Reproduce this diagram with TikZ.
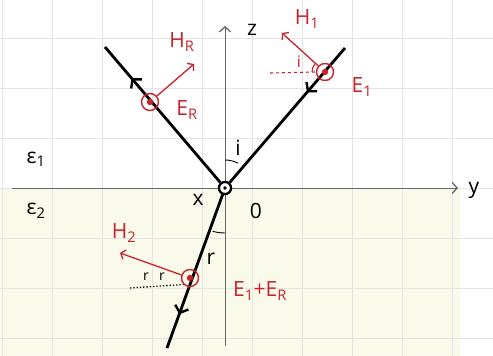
\documentclass[tikz,border=0pt]{standalone}
\usepackage{fontspec}
\setmainfont{Open Sans}
\usetikzlibrary{arrows.meta,decorations.markings,positioning}
\definecolor{ink}{HTML}{C8232C}
\definecolor{paper}{HTML}{FAFAEB}
\definecolor{gridgray}{HTML}{E4E4E4}

\begin{document}
\begin{tikzpicture}[x=1pt,y=-1pt,
	font=\fontsize{21}{23}\selectfont,
	gridline/.style={gridgray,line width=0.6pt},
	axis/.style={gray!80!black,line width=1pt,-{Straight Barb[length=5pt,width=11pt,line width=1.3pt]}},
	ray/.style={line width=2.8pt,postaction={decorate},
		decoration={markings,mark=at position #1 with {\arrow{Straight Barb[length=6pt,width=14pt,line width=2.4pt]}}}},
	field/.style={circle,draw=ink,line width=1.4pt,minimum size=17pt,inner sep=0pt},
	hvec/.style={ink,line width=1.3pt,-{Straight Barb[length=4pt,width=10pt,line width=1.3pt]}},
	lbl/.style={ink,inner sep=0pt}]

	\useasboundingbox (0,0) rectangle (493,356);
	\fill[white] (0,0) rectangle (493,356);
	\fill[paper] (0,188) rectangle (460,356);
	\foreach \gx in {2,52,...,452}
		\draw[gridline] (\gx,0) -- (\gx,356);
	\foreach \gy in {38,88,...,338}
		\draw[gridline] (0,\gy) -- (493,\gy);

	% axes
	\coordinate (yl) at (12,188);
	\coordinate (yr) at (458,188);
	\coordinate (zb) at (225,346);
	\coordinate (zt) at (225,26);
	\draw[axis] (yl) -- (yr);
	\draw[axis] (zb) -- (zt);
	\node (ylab) at (474,190) {y};
	\node (zlab) at (252,30) {z};

	% origin and ray ends
	\node[circle,draw,line width=2.2pt,fill=white,minimum size=12pt,inner sep=0pt] (o) at (225,188) {};
	\coordinate (inc) at (345,48);
	\coordinate (refl) at (105,47);
	\coordinate (refr) at (167,348);

	\draw[ray=0.33] (inc) -- (o);
	\draw[ray=0.77] (o) -- (refl);
	\draw[ray=0.78] (o) -- (refr);
	\node[circle,draw,line width=2.2pt,fill=white,minimum size=12pt,inner sep=0pt] at (o) {};
	\fill (o) circle (1.8pt);

	\node (xlab) at (198,200) {x};
	\node (olab) at (256,211) {0};
	\node (eps1) at (36,159) {ε\textsubscript{1}};
	\node (eps2) at (36,211) {ε\textsubscript{2}};

	% angles at origin
	\draw[line width=0.9pt] (225,160) arc[start angle=90,end angle=62,radius=28pt];
	\node (ilab) at (238,148) {i};
	\draw[line width=0.9pt] (225,233) arc[start angle=270,end angle=254,radius=45pt];
	\node (rlab) at (211,259) {r};

	% incident field
	\node[field] (e1) at (325,72) {};
	\fill[ink] (e1) circle (3.2pt);
	\coordinate (h1tip) at (282,33);
	\draw[hvec] (e1) -- (h1tip);
	\draw[ink,dashed,line width=1.1pt] (270,73) -- (e1.west);
	\draw[ink,line width=1.1pt] ([shift={(-13,0)}]e1.center) arc[start angle=180,end angle=140,radius=13pt];
	\node[lbl] (i1lab) at (299,62) {\fontsize{16}{17}\selectfont i};
	\node[lbl] (h1lab) at (307,19) {H\textsubscript{1}};
	\node[lbl] (e1lab) at (362,87) {E\textsubscript{1}};

	% reflected field
	\node[field] (er) at (150,102) {};
	\fill[ink] (er) circle (3.2pt);
	\coordinate (hrtip) at (194,64);
	\draw[hvec] (er) -- (hrtip);
	\node[lbl] (hrlab) at (182,42) {H\textsubscript{R}};
	\node[lbl] (erlab) at (187,110) {E\textsubscript{R}};

	% transmitted field
	\node[field] (e2) at (190,278) {};
	\fill[ink] (e2) circle (3.2pt);
	\coordinate (h2tip) at (120,253);
	\draw[hvec] (e2) -- (h2tip);
	\draw[dotted,line width=1.3pt] (130,288) -- (e2.south west);
	\node (r1lab) at (146,277) {\fontsize{14}{15}\selectfont r};
	\node (r2lab) at (162,277) {\fontsize{14}{15}\selectfont r};
	\node[lbl] (h2lab) at (124,233) {H\textsubscript{2}};
	\node[lbl] (e2lab) at (260,291) {E\textsubscript{1}+E\textsubscript{R}};

\end{tikzpicture}
\end{document}
